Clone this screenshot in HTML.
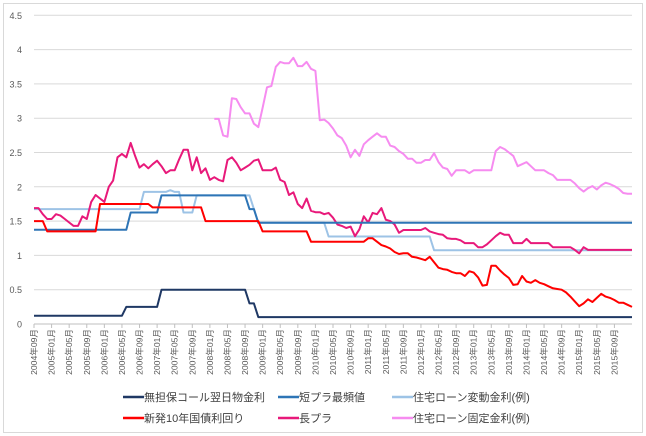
<!DOCTYPE html>
<html><head><meta charset="utf-8"><style>
body{margin:0;background:#fff;font-family:"Liberation Sans","Noto Sans CJK JP",sans-serif}
#c{position:absolute;left:0;top:0;width:646px;height:436px}
</style></head><body>
<svg id="c" width="646" height="436" xmlns="http://www.w3.org/2000/svg">
<rect x="3.5" y="3.5" width="639" height="429" fill="#fff" stroke="#d9d9d9"/>
<g id="grid"></g>
<g id="yt"></g>
<g id="xt"></g>
<g id="lines"></g>
<g id="legend"></g>
</svg>
<script>
const yTicks=[0,0.5,1,1.5,2,2.5,3,3.5,4,4.5];
const yTickLabels=["0","0.5","1","1.5","2","2.5","3","3.5","4","4.5"];
const startYear=2004, startMonth=9, nMonths=137, lastLabelIndex=132;
const seriesNames=["無担保コール翌日物金利","短プラ最頻値","住宅ローン変動金利(例)","新発10年国債利回り","長プラ","住宅ローン固定金利(例)"];
function rep(v,n){return Array(n).fill(v);}
const callRate=[].concat(rep(0.12,21),rep(0.25,8),rep(0.5,20),[0.3,0.3],rep(0.1,86));
const shortPrime=[].concat(rep(1.375,22),rep(1.625,7),rep(1.875,20),[1.675,1.675],rep(1.475,86));
const loanVar=[].concat(rep(1.675,25),rep(1.925,6),[1.95,1.925,1.925],rep(1.625,3),rep(1.875,13),[1.675],rep(1.475,16),rep(1.275,24),rep(1.075,46));
const jgb10=[].concat(rep(1.5,3),rep(1.35,12),rep(1.75,12),rep(1.7,12),rep(1.5,13),rep(1.35,11),rep(1.2,12),
[1.2,1.25,1.25,1.2,1.15,1.13,1.1,1.05,1.02,1.03,1.03,0.98,0.97,0.95,0.93,0.98,0.9,0.82,0.8,0.79,0.76,0.74,0.74,0.7,0.77,0.75,0.68,0.56,0.57,0.85,0.85,0.78,0.72,0.67,0.57,0.58,0.7,0.62,0.6,0.64,0.6,0.58,0.55,0.52,0.51,0.5,0.46,0.4,0.33,0.26,0.3,0.36,0.32,0.38,0.44,0.4,0.38,0.35,0.31,0.31,0.28,0.25]);
const longPrime=[1.69,1.69,1.6,1.53,1.53,1.6,1.58,1.53,1.48,1.43,1.43,1.57,1.53,1.78,1.88,1.83,1.78,2.0,2.09,2.43,2.48,2.43,2.64,2.45,2.28,2.33,2.27,2.33,2.38,2.3,2.2,2.24,2.24,2.4,2.54,2.54,2.24,2.43,2.2,2.27,2.1,2.14,2.1,2.08,2.39,2.43,2.35,2.24,2.28,2.32,2.38,2.4,2.24,2.24,2.24,2.28,2.1,2.07,1.88,1.92,1.75,1.69,1.83,1.65,1.63,1.63,1.6,1.62,1.55,1.45,1.43,1.4,1.42,1.28,1.38,1.57,1.48,1.62,1.6,1.69,1.52,1.5,1.45,1.33,1.37,1.37,1.37,1.37,1.37,1.4,1.35,1.33,1.31,1.3,1.25,1.24,1.24,1.22,1.18,1.18,1.18,1.12,1.12,1.16,1.22,1.28,1.33,1.3,1.3,1.18,1.18,1.18,1.24,1.18,1.18,1.18,1.18,1.18,1.12,1.12,1.12,1.12,1.12,1.08,1.03,1.12,1.08,1.08,1.08,1.08,1.08,1.08,1.08,1.08,1.08,1.08,1.08];
const loanFixed=[].concat(rep(null,41),[2.99,2.99,2.75,2.73,3.29,3.28,3.16,3.07,3.07,2.92,2.87,3.15,3.45,3.47,3.75,3.82,3.8,3.8,3.88,3.76,3.76,3.82,3.72,3.69,2.97,2.98,2.93,2.85,2.75,2.71,2.6,2.43,2.54,2.45,2.62,2.68,2.73,2.78,2.73,2.73,2.6,2.58,2.52,2.48,2.41,2.41,2.35,2.35,2.39,2.39,2.49,2.36,2.28,2.26,2.16,2.24,2.24,2.24,2.2,2.24,2.24,2.24,2.24,2.24,2.52,2.58,2.55,2.5,2.45,2.3,2.33,2.36,2.3,2.24,2.24,2.24,2.2,2.17,2.1,2.1,2.1,2.1,2.05,1.98,1.93,1.98,2.01,1.96,2.02,2.06,2.04,2.01,1.97,1.91,1.9,1.9]);
const seriesData=[callRate,shortPrime,loanVar,jgb10,longPrime,loanFixed];
const colors=["#1f3864","#2e75b6","#9dc3e6","#ff0000","#e8197a","#f68cf0"];
const drawOrder=[5,2,4,1,3,0];
const NS="http://www.w3.org/2000/svg";
const X0=34,X1=632,Y0=324,YPER=68.6;
function xs(i){return X0+(X1-X0)*i/(nMonths-1);}
function ys(v){return Y0-v*YPER;}
function mk(t,a,p){const e=document.createElementNS(NS,t);for(const k in a)e.setAttribute(k,a[k]);p.appendChild(e);return e;}
const grid=document.getElementById('grid'),yt=document.getElementById('yt'),xt=document.getElementById('xt'),lines=document.getElementById('lines'),lg=document.getElementById('legend');
yTicks.forEach((v,k)=>{
 const l=mk('line',{x1:X0,x2:X1,y1:ys(v),y2:ys(v),stroke:v===0?'#bfbfbf':'#d9d9d9','stroke-width':1},grid);
 
 
 const t=mk('text',{x:22,y:ys(v)+3.5,'text-anchor':'end','font-size':9,fill:'#595959'},yt);
 
 
 t.textContent=yTickLabels[k];
});
for(let i=0;i<=lastLabelIndex;i+=4){
 let m=startMonth-1+i, yr=startYear+Math.floor(m/12), mo=m%12+1;
 const x=xs(i);
 const tk=mk('line',{x1:x,x2:x,y1:Y0,y2:Y0+4,stroke:'#bfbfbf'},xt);
 
 
 const t=mk('text',{x:0,y:0,'text-anchor':'end','font-size':8.6,fill:'#595959',transform:`translate(${x+3},329) rotate(-90)`},xt);
 
 
 t.textContent=yr+'年'+String(mo).padStart(2,'0')+'月';
}
drawOrder.forEach(s=>{
 const d=seriesData[s];let p='';let pen=false;
 d.forEach((v,i)=>{if(v==null){pen=false;return;}p+=(pen?'L':'M')+xs(i).toFixed(1)+' '+ys(v).toFixed(1);pen=true;});
 const e=mk('path',{d:p,fill:'none',stroke:colors[s],'stroke-width':2,'stroke-linejoin':'round'},lines);
 
 
});
const legX=[123,278,392],legY=[397,418];
seriesNames.forEach((n,s)=>{
 const x=legX[s%3],y=legY[Math.floor(s/3)];
 const g=mk('g',{},lg);
 
 
 mk('line',{x1:x,x2:x+21,y1:y,y2:y,stroke:colors[s],'stroke-width':2.5},g);
 const t=mk('text',{x:x+21,y:y+4,'font-size':11,fill:'#404040'},g);
 t.textContent=n;
});
</script>
</body></html>
